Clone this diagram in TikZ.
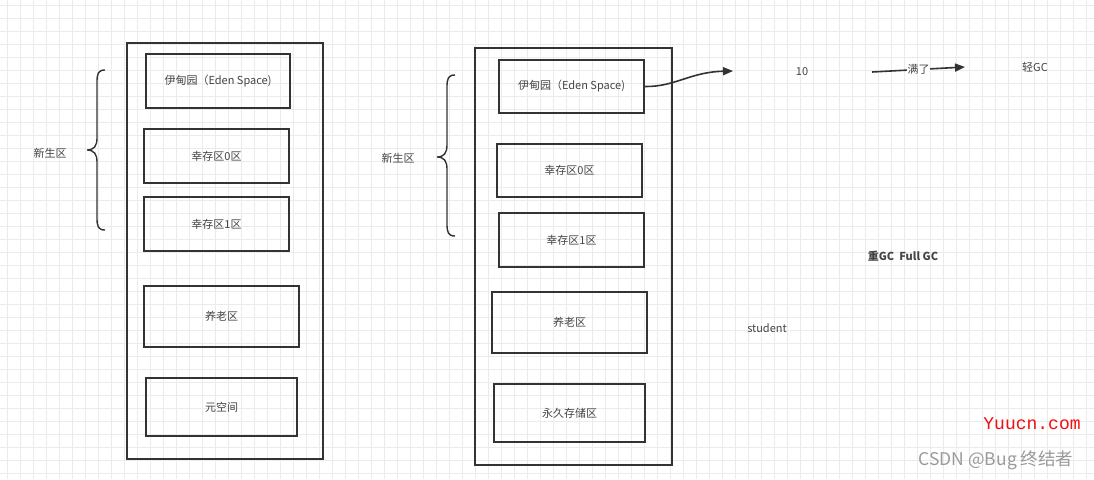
\documentclass[tikz,border=0pt]{standalone}
\usepackage{fontspec}
\setmainfont{Noto Sans CJK SC}
\newfontfamily\wmfont{Liberation Mono}
\usetikzlibrary{arrows.meta}
\definecolor{boxc}{HTML}{333333}
\definecolor{txtc}{HTML}{444444}
\definecolor{gridc}{HTML}{EBEBEB}
\definecolor{wmred}{HTML}{F01010}
\definecolor{wmgrey}{HTML}{9A9A9A}
\tikzset{
  region/.style={draw=boxc, line width=1.6pt, rectangle, inner sep=0pt, text=txtc, font=\fontsize{11}{13}\selectfont},
  outerbox/.style={draw=boxc, line width=1.6pt, rectangle, inner sep=0pt},
  lbl/.style={text=txtc, font=\fontsize{11}{13}\selectfont, inner sep=1pt},
  bracec/.style={draw=boxc, line width=1.4pt},
  arr/.style={draw=boxc, line width=1.6pt, -{Triangle[length=10pt,width=8pt]}},
  gridline/.style={draw=gridc, line width=0.5pt},
}
\begin{document}
\begin{tikzpicture}[x=1pt,y=-1pt]
\useasboundingbox (0,0) rectangle (1094,479);
\fill[white] (0,0) rectangle (1094,479);
\foreach \gx in {7,20,...,1094} {\draw[gridline] (\gx,0) -- (\gx,479);}
\foreach \gy in {5,18,...,479} {\draw[gridline] (0,\gy) -- (1094,\gy);}

% left column
\node[outerbox, minimum width=196, minimum height=416] (outerL) at (225,251) {};
\node[region, minimum width=144, minimum height=54] (edenL) at (218,81) {伊甸园（Eden Space)};
\node[region, minimum width=145, minimum height=54] (s0L) at (216.5,156) {幸存区0区};
\node[region, minimum width=145, minimum height=54] (s1L) at (216.5,224) {幸存区1区};
\node[region, minimum width=155, minimum height=61] (oldL) at (221.5,316.5) {养老区};
\node[region, minimum width=151, minimum height=58] (metaL) at (221.5,407) {元空间};
\draw[bracec] (105,70) .. controls (98,70) and (97,74) .. (97,82) -- (97,138)
  .. controls (97,146) and (94,150) .. (87,150)
  .. controls (94,150) and (97,154) .. (97,162) -- (97,218)
  .. controls (97,226) and (98,230) .. (105,230);
\node[lbl] (youngL) at (50,153) {新生区};

% right column
\node[outerbox, minimum width=197, minimum height=417] (outerR) at (573.5,256.5) {};
\node[region, minimum width=145, minimum height=53] (edenR) at (571.5,86.5) {伊甸园（Eden Space)};
\node[region, minimum width=145, minimum height=53] (s0R) at (569.5,170.5) {幸存区0区};
\node[region, minimum width=145, minimum height=54] (s1R) at (571.5,240) {幸存区1区};
\node[region, minimum width=155, minimum height=61] (oldR) at (569.5,322.5) {养老区};
\node[region, minimum width=151, minimum height=58] (permR) at (569.5,413) {永久存储区};
\draw[bracec] (455,75) .. controls (448,75) and (447,79) .. (447,87) -- (447,145)
  .. controls (447,153) and (444,157) .. (437,157)
  .. controls (444,157) and (447,161) .. (447,169) -- (447,224)
  .. controls (447,232) and (448,236) .. (455,236);
\node[lbl] (youngR) at (398,158) {新生区};

% right side annotations
\coordinate (a1end) at (733,71);
\draw[arr] (edenR.east) .. controls (675,87) and (690,72) .. (a1end);
\node[lbl] (ten) at (802,72) {10};
\coordinate (a2start) at (872,72);
\coordinate (a2end) at (965,67);
\draw[arr] (a2start) -- node[lbl, fill=white, inner sep=0.5pt, pos=0.5] (full) {满了} (a2end);
\node[lbl] (light) at (1035,67) {轻GC};
\node[lbl, font=\fontsize{11}{13}\selectfont\bfseries] (heavy) at (903,256) {重GC\ \ Full GC};
\node[lbl] (student) at (767,328) {student};

% watermarks
\node[text=wmred, font=\wmfont\fontsize{18}{20}\selectfont, inner sep=0pt] (wm1) at (1032,424) {Yuucn.com};
\node[text=wmgrey, font=\fontsize{17.5}{19}\selectfont, inner sep=0pt] (wm2) at (996,460) {CSDN @Bug 终结者};
\end{tikzpicture}
\end{document}
